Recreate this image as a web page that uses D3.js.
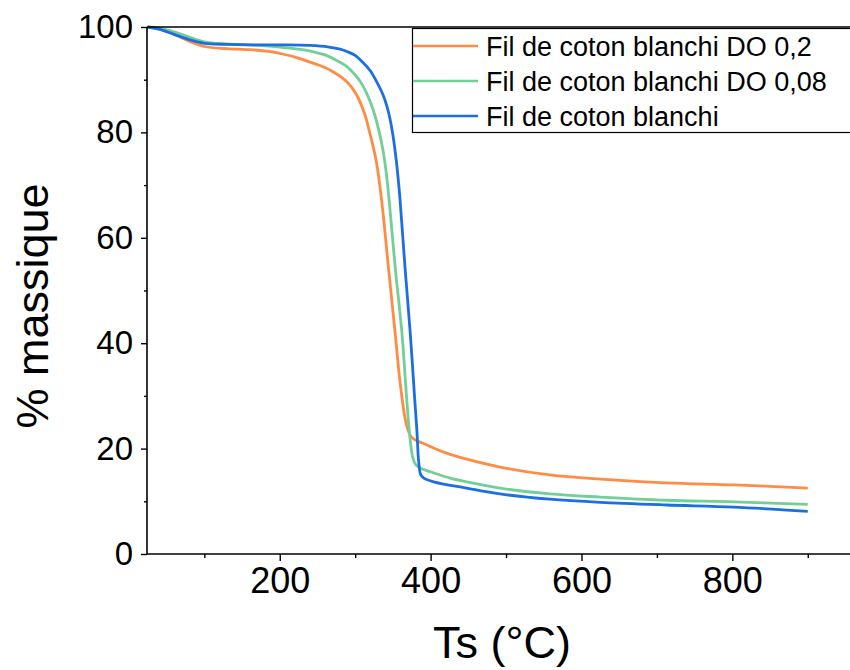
<!DOCTYPE html>
<html>
<head>
<meta charset="utf-8">
<script src="https://cdn.jsdelivr.net/npm/d3@7"></script>
<style>
  html, body { margin: 0; padding: 0; background: #fff; }
  svg { display: block; font-family: "Liberation Sans", Arial, sans-serif; }
</style>
</head>
<body>
<svg id="chart" width="850" height="670"></svg>
<script>
// ---- Data ----
const seriesNames = ["Fil de coton blanchi DO 0,2", "Fil de coton blanchi DO 0,08", "Fil de coton blanchi"];
const seriesColors = ["#ff8c45", "#72cf97", "#1b6fe3"];

const tempDO02 = [25,40,60,80,100,130,160,190,200,220,245,267,289,302,313,320,328,335,344,353,360,368,374,380,390,404,420,448,492,558,625,713,802,900];
const massDO02 = [100,99.6,98.6,97.3,96.3,95.9,95.7,95.3,95.0,94.3,93.1,91.8,89.6,87.1,83.3,79.5,74.5,67.2,54.5,41.9,32.0,24.5,22.3,21.6,21.0,20.1,19.2,18.0,16.5,15.0,14.2,13.5,13.1,12.5];

const tempDO008 = [25,40,60,80,100,130,160,200,230,245,260,275,289,300,307,314,320,326,332,337,341,345,353,362,368,372,376,380,386,400,426,448,492,558,625,713,802,900];
const massDO008 = [100,99.8,99.1,98.1,97.2,96.8,96.6,96.2,95.7,95.3,94.7,93.7,92.5,90.9,89.6,87.8,85.8,83.3,80.0,76.5,72.5,67.2,54.5,41.9,30.0,23.0,18.5,17.0,16.3,15.6,14.4,13.7,12.5,11.4,10.8,10.2,9.9,9.4];

const tempBlanchi = [25,40,60,80,100,130,160,200,240,265,280,290,300,310,320,330,337,342,346,350,355,359.5,366,373,379,382,384,387,391,404,448,492,558,625,713,802,900];
const massBlanchi = [100,99.6,98.6,97.6,96.9,96.7,96.6,96.6,96.5,96.2,95.8,95.3,94.6,93.3,91.7,89.2,87.1,85.0,82.7,79.5,74.0,67.2,54.5,41.9,29.2,23.0,17.8,15.0,14.4,13.7,12.5,11.4,10.4,9.8,9.3,8.9,8.1];

const xTicks = [200, 400, 600, 800];
const xMinorTicks = [100, 300, 500, 700, 900];
const yTicks = [0, 20, 40, 60, 80, 100];
const yMinorTicks = [10, 30, 50, 70, 90];
const xTitle = "Ts (°C)";
const yTitle = "% massique";

const series = [
  { name: seriesNames[0], color: seriesColors[0], t: tempDO02, m: massDO02 },
  { name: seriesNames[1], color: seriesColors[1], t: tempDO008, m: massDO008 },
  { name: seriesNames[2], color: seriesColors[2], t: tempBlanchi, m: massBlanchi }
];

// ---- Layout ----
const svg = d3.select("#chart");
const mLeft = 147, mRight = 850, mTop = 27, mBottom = 554;

const x = d3.scaleLinear().domain([24, 956]).range([mLeft, mRight]);
const y = d3.scaleLinear().domain([0, 100]).range([mBottom, mTop]);

const line = d3.line()
  .x(d => x(d[0]))
  .y(d => y(d[1]))
  .curve(d3.curveCatmullRom.alpha(0.5));

const plot = svg.append("g");
series.forEach(s => {
  const pts = s.t.map((t, i) => [t, s.m[i]]);
  plot.append("path")
    .datum(pts)
    .attr("fill", "none")
    .attr("stroke", s.color)
    .attr("stroke-width", 2.8)
    .attr("stroke-linejoin", "round")
    .attr("d", line);
});

// Axes
const xAxis = svg.append("g")
  .attr("transform", `translate(0,${mBottom})`)
  .call(d3.axisBottom(x).tickValues(xTicks).tickSize(7).tickPadding(6).tickFormat(d3.format("d")));
xAxis.select(".domain").attr("stroke", "#000").attr("stroke-width", 1.6).attr("d", `M${mLeft},0H${mRight}`);
xAxis.selectAll(".tick line").attr("stroke-width", 1.4);
xAxis.selectAll("text").attr("font-size", 36).attr("fill", "#000");

svg.append("g")
  .attr("transform", `translate(0,${mBottom})`)
  .call(d3.axisBottom(x).tickValues(xMinorTicks).tickSize(4).tickFormat(""))
  .call(g => g.select(".domain").remove())
  .selectAll(".tick line").attr("stroke-width", 1.4);

const yAxis = svg.append("g")
  .attr("transform", `translate(${mLeft},0)`)
  .call(d3.axisLeft(y).tickValues(yTicks).tickSize(6).tickPadding(8).tickFormat(d3.format("d")));
yAxis.select(".domain").attr("stroke", "#000").attr("stroke-width", 1.6).attr("d", `M0,${mBottom}V${mTop}`);
yAxis.selectAll(".tick line").attr("stroke-width", 1.4);
yAxis.selectAll("text").attr("font-size", 33).attr("fill", "#000");

svg.append("g")
  .attr("transform", `translate(${mLeft},0)`)
  .call(d3.axisLeft(y).tickValues(yMinorTicks).tickSize(3).tickFormat(""))
  .call(g => g.select(".domain").remove())
  .selectAll(".tick line").attr("stroke-width", 1.4);

// Top frame line
svg.append("line")
  .attr("x1", mLeft).attr("x2", mRight)
  .attr("y1", mTop).attr("y2", mTop)
  .attr("stroke", "#000").attr("stroke-width", 1.6);

// Axis titles
svg.append("text")
  .attr("x", 502).attr("y", 658)
  .attr("text-anchor", "middle")
  .attr("font-size", 45)
  .text(xTitle);

svg.append("text")
  .attr("transform", "translate(48,306) rotate(-90)")
  .attr("text-anchor", "middle")
  .attr("font-size", 45)
  .text(yTitle);

// Legend
const lg = svg.append("g");
lg.append("rect")
  .attr("x", 412.5).attr("y", 28.5)
  .attr("width", 460).attr("height", 104)
  .attr("fill", "#fff")
  .attr("stroke", "#000").attr("stroke-width", 1.2);
series.forEach((s, i) => {
  const yy = 46 + i * 35;
  lg.append("line")
    .attr("x1", 413).attr("x2", 478)
    .attr("y1", yy).attr("y2", yy)
    .attr("stroke", s.color).attr("stroke-width", 2.6);
  lg.append("text")
    .attr("x", 486).attr("y", yy)
    .attr("dy", "0.36em")
    .attr("font-size", 27)
    .text(s.name);
});
</script>
</body>
</html>
